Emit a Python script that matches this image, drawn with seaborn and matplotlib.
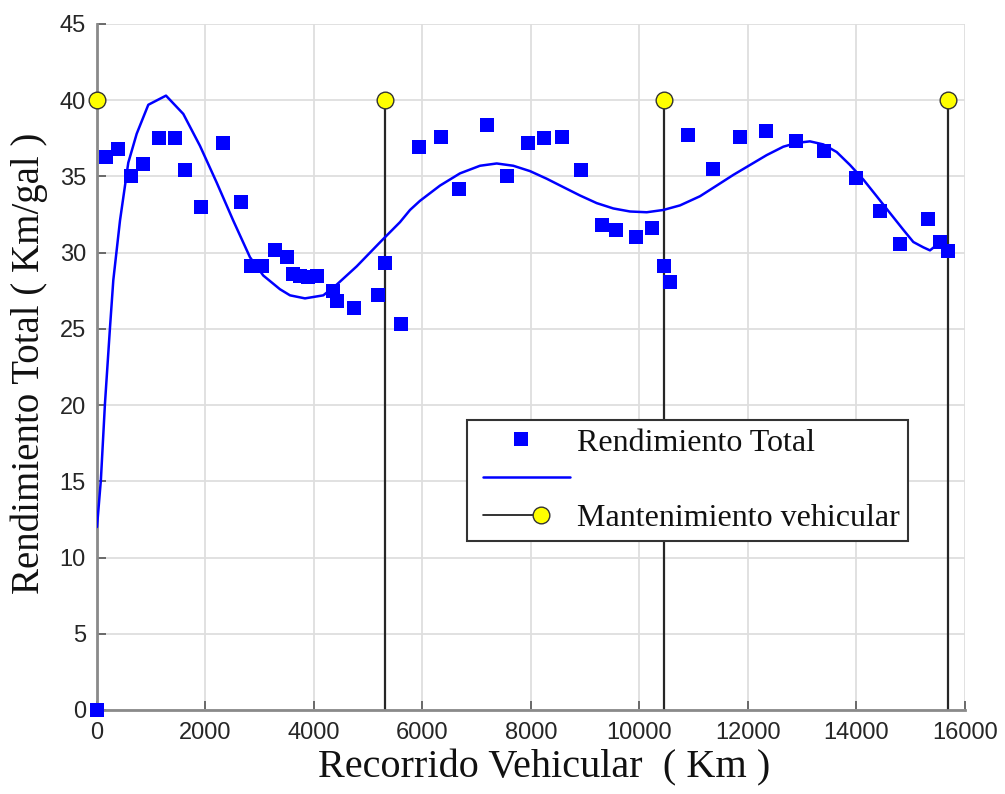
import matplotlib
matplotlib.use("Agg")
import matplotlib.pyplot as plt
import seaborn as sns
from matplotlib.lines import Line2D
from matplotlib.legend_handler import HandlerBase

# ---------------- data ----------------
km = [0, 166, 387, 627, 848, 1143, 1438, 1622, 1917, 2322, 2654, 2838, 3041,
      3281, 3502, 3612, 3741, 3889, 4055, 4349, 4423, 4737, 5179, 5308, 5603,
      5934, 6340, 6672, 7188, 7556, 7943, 8238, 8570, 8920, 9307, 9565, 9934,
      10229, 10450, 10561, 10892, 11353, 11850, 12330, 12882, 13398, 13988,
      14431, 14800, 15315, 15536, 15684]
rendimiento = [0.0, 36.3, 36.8, 35.0, 35.8, 37.5, 37.5, 35.4, 33.0, 37.2, 33.3,
               29.1, 29.1, 30.2, 29.7, 28.6, 28.5, 28.4, 28.5, 27.5, 26.8, 26.4,
               27.2, 29.3, 25.3, 36.9, 37.6, 34.2, 38.4, 35.0, 37.2, 37.5, 37.6,
               35.4, 31.8, 31.5, 31.0, 31.6, 29.1, 28.1, 37.7, 35.5, 37.6, 38.0,
               37.3, 36.7, 34.9, 32.7, 30.6, 32.2, 30.7, 30.1]

fit_km = [0, 72, 147, 240, 301, 424, 577, 732, 946, 1272, 1591, 1899, 2206,
          2512, 2820, 3065, 3373, 3558, 3834, 4172, 4418, 4787, 5250, 5585,
          5770, 5954, 6323, 6691, 7060, 7368, 7674, 7981, 8289, 8595, 8903,
          9211, 9517, 9825, 10133, 10439, 10747, 11115, 11423, 11729, 12037,
          12345, 12651, 12897, 13142, 13388, 13635, 13880, 14125, 14372,
          14617, 14863, 15047, 15231, 15354, 15478, 15570]
fit_rend = [12.0, 15.1, 20.1, 25.1, 28.2, 32.1, 35.9, 37.8, 39.7, 40.3, 39.1,
            37.0, 34.6, 32.1, 29.7, 28.5, 27.6, 27.2, 27.0, 27.2, 27.9, 29.1,
            30.8, 32.0, 32.8, 33.4, 34.4, 35.2, 35.7, 35.85, 35.7, 35.35,
            34.85, 34.3, 33.75, 33.25, 32.9, 32.7, 32.65, 32.8, 33.1, 33.7,
            34.4, 35.1, 35.75, 36.4, 36.95, 37.2, 37.3, 37.1, 36.6, 35.75,
            34.8, 33.7, 32.6, 31.5, 30.7, 30.35, 30.15, 30.5, 30.8]

mant_km = [0, 5308, 10450, 15684]
mant_nivel = [40, 40, 40, 40]

x_ticks = [0, 2000, 4000, 6000, 8000, 10000, 12000, 14000, 16000]
y_ticks = [0, 5, 10, 15, 20, 25, 30, 35, 40, 45]

label_rend = "Rendimiento Total"
label_fit = ""
label_mant = "Mantenimiento vehicular"

# ---------------- style ----------------
sns.set_theme(style="whitegrid")
plt.rcParams["font.family"] = ["Liberation Sans", "DejaVu Sans"]
serif = ["Liberation Serif", "DejaVu Serif"]

fig = plt.figure(figsize=(10.05, 7.94), dpi=100)
ax = fig.add_axes([0.0965, 0.1058, 0.8637, 0.864])
ax.set_facecolor("white")

# maintenance stems
ax.vlines(mant_km, 0, mant_nivel, colors="#262626", linewidth=1.6, zorder=2)
sns.scatterplot(x=mant_km, y=mant_nivel, marker="o", s=144, color="#ffff00",
                edgecolor="#333333", linewidth=1.0, zorder=6, ax=ax,
                clip_on=False, legend=False)

# fitted curve
sns.lineplot(x=fit_km, y=fit_rend, color="#0000ff", linewidth=1.8, ax=ax,
             sort=False, estimator=None, zorder=4, legend=False)

# data squares
sns.scatterplot(x=km, y=rendimiento, marker="s", s=90, color="#0000ff",
                linewidth=0, zorder=5, ax=ax, clip_on=False, legend=False)

ax.set_xlim(0, 16000)
ax.set_ylim(0, 45)
ax.set_xticks(x_ticks)
ax.set_yticks(y_ticks)
ax.set_xticklabels([str(v) for v in x_ticks])
ax.set_yticklabels([str(v) for v in y_ticks])

ax.grid(True, color="#dedede", linewidth=1.3)
ax.set_axisbelow(True)
for s in ["top", "right"]:
    ax.spines[s].set_visible(False)
for s in ["left", "bottom"]:
    ax.spines[s].set_visible(True)
    ax.spines[s].set_color("#8a8a8a")
    ax.spines[s].set_linewidth(2.0)

ax.tick_params(axis="both", direction="in", length=6.5, width=1.3,
               color="#606060", labelsize=17, labelcolor="#262626")
ax.tick_params(axis="x", pad=9, bottom=True)
ax.tick_params(axis="y", pad=8, left=True)

ax.set_xlabel("Recorrido Vehicular  ( Km )", fontsize=29, family=serif,
              color="#111111")
ax.set_ylabel("Rendimiento Total ( Km/gal )", fontsize=28, family=serif,
              color="#111111")
ax.xaxis.set_label_coords(0.515, -0.057)
ax.yaxis.set_label_coords(-0.057, 0.505)


# ---------------- legend ----------------
class SegHandler(HandlerBase):
    def __init__(self, kind):
        super().__init__()
        self.kind = kind

    def create_artists(self, legend, orig_handle, xdescent, ydescent,
                       width, height, fontsize, trans):
        y = (height - ydescent) / 2.0
        x0 = -xdescent
        arts = []
        if self.kind == "square":
            arts.append(Line2D([x0 + 0.48 * width], [y], marker="s",
                               markersize=9.5, color="#0000ff", lw=0,
                               markeredgewidth=0, transform=trans))
        elif self.kind == "line":
            arts.append(Line2D([x0 + 0.08 * width, x0 + width], [y, y],
                               color="#0000ff", lw=1.8, transform=trans))
        else:
            arts.append(Line2D([x0 + 0.08 * width, x0 + 0.70 * width], [y, y],
                               color="#111111", lw=1.2, transform=trans))
            arts.append(Line2D([x0 + 0.70 * width], [y], marker="o",
                               markersize=12, markerfacecolor="#ffff00",
                               markeredgecolor="#333333", markeredgewidth=1.0,
                               lw=0, transform=trans))
        return arts


h_sq = Line2D([], [], label=label_rend)
h_ln = Line2D([], [], label=label_fit)
h_mt = Line2D([], [], label=label_mant)
leg = ax.legend(handles=[h_sq, h_ln, h_mt],
                labels=[label_rend, label_fit, label_mant],
                handler_map={h_sq: SegHandler("square"),
                             h_ln: SegHandler("line"),
                             h_mt: SegHandler("stem")},
                loc="lower left", bbox_to_anchor=(0.426, 0.246),
                borderaxespad=0, prop={"family": serif, "size": 23},
                handlelength=2.97, handletextpad=0.22, borderpad=0.26,
                labelspacing=0.26, fancybox=False, framealpha=1,
                edgecolor="#333333", labelcolor="#111111")
leg.get_frame().set_linewidth(1.5)
leg.set_zorder(10)

fig.savefig("out.png", dpi=100, facecolor="white")
